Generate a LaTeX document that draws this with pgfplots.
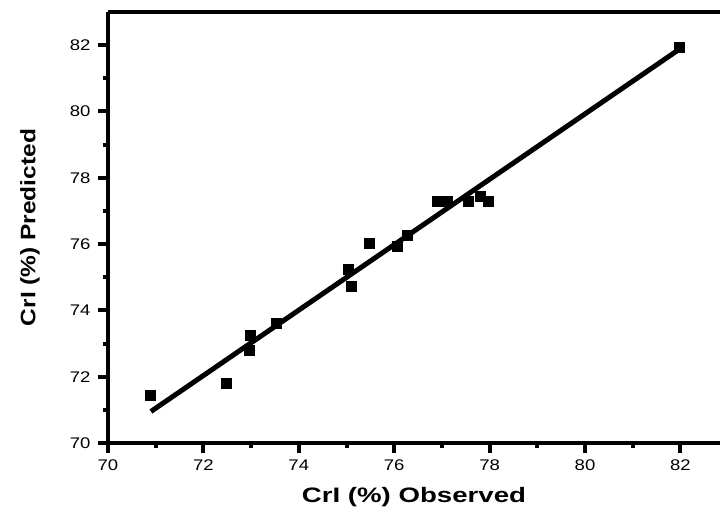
\documentclass[border=0pt]{standalone}
\usepackage{pgfplots}
\pgfplotsset{compat=1.18}
\usepackage{fontspec}
\setmainfont{Liberation Sans}
\newfontfamily\tickfont[FakeStretch=1.2]{Liberation Sans}
\newfontfamily\xlabfont[FakeStretch=1.32]{Liberation Sans}
\newfontfamily\ylabfont[FakeStretch=1.17]{Liberation Sans}
\begin{document}
\begin{tikzpicture}
\path[use as bounding box] (-108bp,-77bp) rectangle (612bp,443bp);
\begin{axis}[
  at={(0,0)}, anchor=south west,
  scale only axis, width=612bp, height=431bp,
  xmin=70, xmax=82.83, ymin=70, ymax=83,
  axis x line*=bottom, axis y line*=left,
  axis line style={line width=4bp, black},
  xtick={70,72,...,82}, ytick={70,72,...,82},
  minor xtick={71,73,...,81}, minor ytick={71,73,...,81},
  xtick align=outside, ytick align=outside,
  major tick length=10bp, minor tick length=5bp,
  every major tick/.append style={black, line width=4bp},
  every minor tick/.append style={black, line width=4bp},
  ticklabel style={font=\tickfont\fontsize{15.5}{17}\selectfont},
  yticklabel style={xshift=-4bp},
  xticklabel style={yshift=-3bp},
  /pgf/number format/assume math mode=true,
  xlabel={\xlabfont\bfseries CrI (\%) Observed},
  ylabel={\ylabfont\bfseries CrI (\%) Predicted},
  label style={font=\fontsize{21}{25}\selectfont},
  xlabel style={at={(axis description cs:0.5,-0.1253)}, anchor=center},
  ylabel style={at={(axis description cs:-0.1275,0.5)}, anchor=center},
  clip=false,
]
\draw[line width=3.5bp, black] (rel axis cs:0,1) -- (rel axis cs:1,1);
\addplot[black, line width=5bp, mark=none] coordinates {(70.9,70.95) (81.95,81.85)};
\addplot[only marks, mark=square*, mark size=5bp, black] coordinates {
(70.88,71.45)
(72.47,71.81)
(72.98,73.26)
(72.96,72.80)
(73.52,73.60)
(75.03,75.23)
(75.09,74.74)
(75.47,76.04)
(76.06,75.95)
(76.27,76.28)
(76.90,77.28)
(77.11,77.28)
(77.55,77.28)
(77.80,77.43)
(77.97,77.28)
(81.97,81.93)
};
\end{axis}
\end{tikzpicture}
\end{document}
